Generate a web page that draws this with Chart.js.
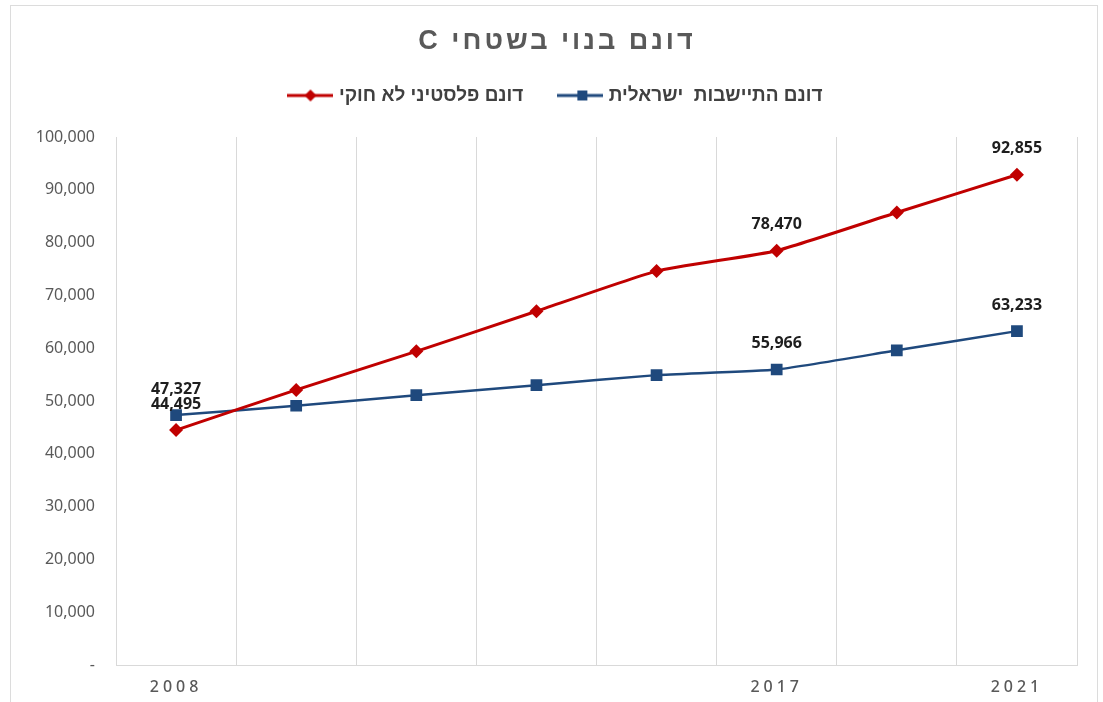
<!DOCTYPE html>
<html>
<head>
<meta charset="utf-8">
<script src="https://cdn.jsdelivr.net/npm/chart.js@4"></script>
<style>
  html, body { margin: 0; padding: 0; background: #fff; }
  #wrap { position: relative; width: 1103px; height: 702px; }
  #frame { position: absolute; left: 10px; top: 5px; width: 1088px; height: 720px; border: 1px solid #dcdcdc; box-sizing: border-box; pointer-events: none; }
  canvas { position: absolute; left: 0; top: 0; }
</style>
</head>
<body>
<div id="wrap">
  <div id="frame"></div>
  <canvas id="c" width="1103" height="702"></canvas>
</div>
<script>
const chartTitle = 'דונם בנוי בשטחי C';
const categories = ['2008', '', '', '', '', '2017', '', '2021'];
const palestinianLabel = 'דונם פלסטיני לא חוקי';
const israeliLabel = 'דונם התיישבות  ישראלית';
const palestinianValues = [44495, 52100, 59400, 67000, 74600, 78470, 85700, 92855];
const israeliValues = [47327, 49100, 51100, 53000, 54900, 55966, 59600, 63233];
const labeledIndices = [0, 5, 7];
const yTicks = [0, 10000, 20000, 30000, 40000, 50000, 60000, 70000, 80000, 90000, 100000];

const RED = '#c00000';
const BLUE = '#1f497d';

function legendMarker(color, shape, w, cx) {
  const c = document.createElement('canvas');
  c.width = w; c.height = 16;
  const g = c.getContext('2d');
  g.strokeStyle = color; g.lineWidth = 3;
  g.beginPath(); g.moveTo(0, 8); g.lineTo(w, 8); g.stroke();
  g.fillStyle = color;
  g.beginPath();
  if (shape === 'diamond') {
    g.moveTo(cx, 2); g.lineTo(cx + 6, 8); g.lineTo(cx, 14); g.lineTo(cx - 6, 8); g.closePath();
  } else {
    g.rect(cx - 5, 3, 10, 10);
  }
  g.fill();
  return c;
}
const redMarker = legendMarker(RED, 'diamond', 46, 23);
const blueMarker = legendMarker(BLUE, 'square', 46, 25);

const fmt = v => v.toLocaleString('en-US');

const dataLabelPlugin = {
  id: 'dataLabels',
  afterDatasetsDraw(chart) {
    const ctx = chart.ctx;
    ctx.save();
    ctx.font = 'bold 16px "Noto Sans", "Liberation Sans", sans-serif';
    ctx.fillStyle = '#1e1e1e';
    ctx.textAlign = 'center';
    ctx.textBaseline = 'middle';
    chart.data.datasets.forEach((ds, di) => {
      const meta = chart.getDatasetMeta(di);
      labeledIndices.forEach(i => {
        const el = meta.data[i];
        if (!el) return;
        ctx.fillText(fmt(ds.data[i]), el.x, el.y - 26);
      });
    });
    ctx.restore();
  }
};

const titlePlugin = {
  id: 'rtlTitle',
  afterDraw(chart) {
    const ctx = chart.ctx;
    ctx.save();
    try { ctx.letterSpacing = '3px'; } catch (e) {}
    ctx.direction = 'rtl';
    ctx.font = 'bold 27px "Liberation Sans", "DejaVu Sans", sans-serif';
    ctx.fillStyle = '#595959';
    ctx.textAlign = 'center';
    ctx.textBaseline = 'middle';
    const cx = (chart.legend.left + chart.legend.right) / 2;
    ctx.fillText(chartTitle, cx, 42);
    ctx.restore();
  }
};

const spacingPlugin = {
  id: 'spacing',
  beforeLayout(chart) {
    const lg = chart.legend;
    if (lg && !lg._padded) {
      const origFit = lg.fit;
      lg.fit = function () {
        origFit.call(this);
        this.height += 22;
      };
      lg._padded = true;
    }
  },
  afterUpdate(chart) {
    const s = chart.scales.x;
    if (s && !s._spaced) {
      const orig = s.drawLabels;
      s.drawLabels = function (area) {
        const ctx = this.ctx;
        ctx.save();
        try { ctx.letterSpacing = '4px'; } catch (e) {}
        orig.call(this, area);
        ctx.restore();
      };
      s._spaced = true;
    }
  }
};

new Chart(document.getElementById('c'), {
  type: 'line',
  data: {
    labels: categories,
    datasets: [
      {
        label: palestinianLabel,
        data: palestinianValues,
        borderColor: RED,
        backgroundColor: RED,
        borderWidth: 3,
        pointStyle: 'rectRot',
        pointRadius: 7,
        pointHoverRadius: 7,
        pointBackgroundColor: RED,
        pointBorderColor: RED,
        pointBorderWidth: 0,
        tension: 0.15
      },
      {
        label: israeliLabel,
        data: israeliValues,
        borderColor: BLUE,
        backgroundColor: BLUE,
        borderWidth: 2.5,
        pointStyle: 'rect',
        pointRadius: 8.3,
        pointHoverRadius: 8.3,
        pointBackgroundColor: BLUE,
        pointBorderColor: BLUE,
        pointBorderWidth: 0,
        tension: 0.15
      }
    ]
  },
  options: {
    responsive: false,
    animation: false,
    devicePixelRatio: 1,
    layout: { padding: { left: 37, right: 26, top: 48, bottom: 0 } },
    plugins: {
      title: { display: false },
      legend: {
        display: true,
        position: 'top',
        labels: {
          color: '#404040',
          font: { family: '"Liberation Sans", "DejaVu Sans", sans-serif', size: 19, weight: 'bold' },
          usePointStyle: true,
          pointStyleWidth: 38,
          boxHeight: 16,
          padding: 38,
          generateLabels(chart) {
            const items = Chart.defaults.plugins.legend.labels.generateLabels(chart);
            items.forEach(it => { it.pointStyle = it.datasetIndex === 0 ? redMarker : blueMarker; });
            return items;
          }
        }
      },
      tooltip: { enabled: false }
    },
    scales: {
      x: {
        offset: true,
        afterFit(scale) { scale.height = 37; },
        grid: { display: true, offset: true, color: '#d9d9d9', lineWidth: 1, drawTicks: false },
        border: { display: true, color: '#d9d9d9' },
        ticks: {
          color: '#595959',
          font: { family: '"Noto Sans", "Liberation Sans", sans-serif', size: 16, weight: '500' },
          padding: 13,
          autoSkip: false,
          maxRotation: 0
        }
      },
      y: {
        min: 0,
        max: 100000,
        afterFit(scale) { scale.width = 79; },
        afterBuildTicks(scale) { scale.ticks = yTicks.map(v => ({ value: v })); },
        grid: { display: false, drawTicks: false },
        border: { display: false },
        ticks: {
          color: '#595959',
          font: { family: '"Noto Sans", "Liberation Sans", sans-serif', size: 16 },
          padding: 21,
          callback: v => (v === 0 ? '-' : fmt(v))
        }
      }
    }
  },
  plugins: [dataLabelPlugin, spacingPlugin, titlePlugin]
});
</script>
</body>
</html>
